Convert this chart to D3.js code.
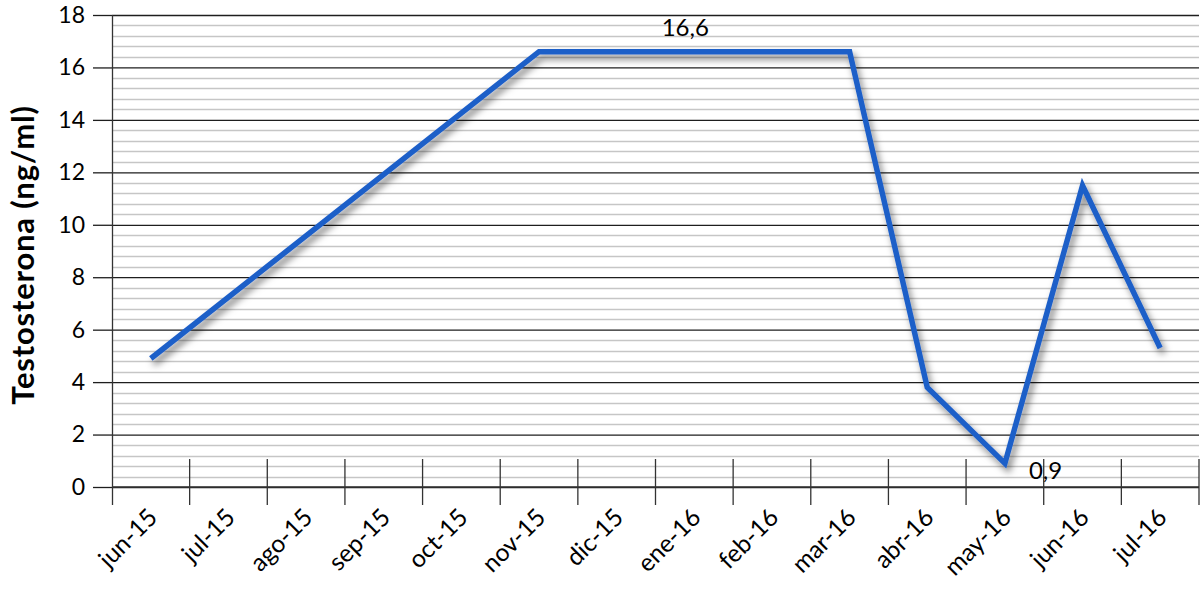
<!DOCTYPE html>
<html>
<head>
<meta charset="utf-8">
<script src="https://cdn.jsdelivr.net/npm/d3@7/dist/d3.min.js"></script>
<style>
  html, body { margin: 0; padding: 0; background: #ffffff; }
  svg { display: block; }
  text { font-family: Lato, "Open Sans", sans-serif; fill: #000; }
</style>
</head>
<body>
<svg id="chart" width="1200" height="599"></svg>
<script>
// ---- data ----
const months = ["jun-15","jul-15","ago-15","sep-15","oct-15","nov-15","dic-15","ene-16","feb-16","mar-16","abr-16","may-16","jun-16","jul-16"];
const testosterona = [4.9, null, null, null, null, 16.6, 16.6, 16.6, 16.6, 16.6, 3.8, 0.9, 11.5, 5.3];
const yTicks = [0, 2, 4, 6, 8, 10, 12, 14, 16, 18];
const labelledMonths = ["ene-16", "may-16"];
const yTitle = "Testosterona (ng/ml)";

(function () {
// ---- layout ----
const svg = d3.select("#chart");
const pLeft = 112, pRight = 1199, pTop = 15, pBottom = 487;

const x = d3.scaleBand().domain(months).range([pLeft, pRight]).padding(0);
const y = d3.scaleLinear().domain([0, 18]).range([pBottom, pTop]);
const cx = m => x(m) + x.bandwidth() / 2;

const defs = svg.append("defs");
const f = defs.append("filter").attr("id", "shadow")
  .attr("x", "-10%").attr("y", "-10%").attr("width", "120%").attr("height", "130%");
f.append("feDropShadow").attr("dx", 3).attr("dy", 5).attr("stdDeviation", 3.5)
  .attr("flood-color", "#000").attr("flood-opacity", 0.5);

// minor gridlines
const minor = d3.range(0, 18.0001, 0.4).filter(v => Math.abs(v / 2 - Math.round(v / 2)) > 1e-6);
svg.append("g").selectAll("line").data(minor).join("line")
  .attr("x1", pLeft).attr("x2", pRight)
  .attr("y1", d => Math.round(y(d)) + 0.5).attr("y2", d => Math.round(y(d)) + 0.5)
  .attr("stroke", "#c6c6c6").attr("stroke-width", 1.4);

// major gridlines via y axis
const yAxis = d3.axisLeft(y).tickValues(yTicks)
  .tickSize(-(pRight - pLeft)).tickPadding(8).tickFormat(d3.format("d"));
const gy = svg.append("g").attr("transform", `translate(${pLeft},0)`).call(yAxis);
gy.select(".domain").remove();
gy.selectAll(".tick line").attr("stroke", "#1e1e1e").attr("stroke-width", 1.3);
gy.selectAll(".tick").append("line")
  .attr("x1", -19).attr("x2", 0).attr("stroke", "#1e1e1e").attr("stroke-width", 1.3);
gy.selectAll(".tick text").attr("x", -27).attr("font-size", 23).attr("font-family", "Lato").attr("fill", "#000");

// y axis line
svg.append("line").attr("x1", pLeft + 0.5).attr("x2", pLeft + 0.5)
  .attr("y1", pTop).attr("y2", 505).attr("stroke", "#333").attr("stroke-width", 1.3);

// x axis: ticks at category boundaries (cross)
const bounds = months.map(m => x(m)).concat([pRight]);
svg.append("g").selectAll("line").data(bounds.slice(1)).join("line")
  .attr("x1", d => d).attr("x2", d => d).attr("y1", 459).attr("y2", 505)
  .attr("stroke", "#333").attr("stroke-width", 1.3);
svg.append("line").attr("x1", pLeft).attr("x2", pRight)
  .attr("y1", y(0)).attr("y2", y(0)).attr("stroke", "#333").attr("stroke-width", 1.3);

// x labels
svg.append("g").selectAll("text").data(months).join("text")
  .attr("transform", d => `translate(${cx(d) + 8},${519}) rotate(-45)`)
  .attr("text-anchor", "end").attr("font-size", 24.5).text(d => d);

// line
const pts = months.map((m, i) => ({ m, v: testosterona[i] })).filter(d => d.v != null);
const line = d3.line().x(d => cx(d.m)).y(d => y(d.v));
svg.append("path").datum(pts).attr("d", line)
  .attr("fill", "none").attr("stroke", "#1f5fc8").attr("stroke-width", 5.5)
  .attr("stroke-linejoin", "miter").attr("stroke-miterlimit", 10)
  .attr("filter", "url(#shadow)");

// data labels
const fmt = v => d3.format(".1f")(v).replace(".", ",");
const lab = pts.filter(d => labelledMonths.includes(d.m));
lab.forEach(d => {
  if (d.m === "ene-16") {
    svg.append("text").attr("x", cx(d.m) - 9).attr("y", y(d.v) - 16)
      .attr("text-anchor", "middle").attr("font-size", 24).text(fmt(d.v));
  } else {
    svg.append("text").attr("x", cx(d.m) + 24).attr("y", y(d.v) + 16)
      .attr("text-anchor", "start").attr("font-size", 24).text(fmt(d.v));
  }
});

// y title
svg.append("text").attr("transform", `translate(34,255) rotate(-90)`)
  .attr("text-anchor", "middle").attr("font-size", 31).attr("font-weight", "bold")
  .attr("letter-spacing", 0.8)
  .text(yTitle);
})();
</script>
</body>
</html>
